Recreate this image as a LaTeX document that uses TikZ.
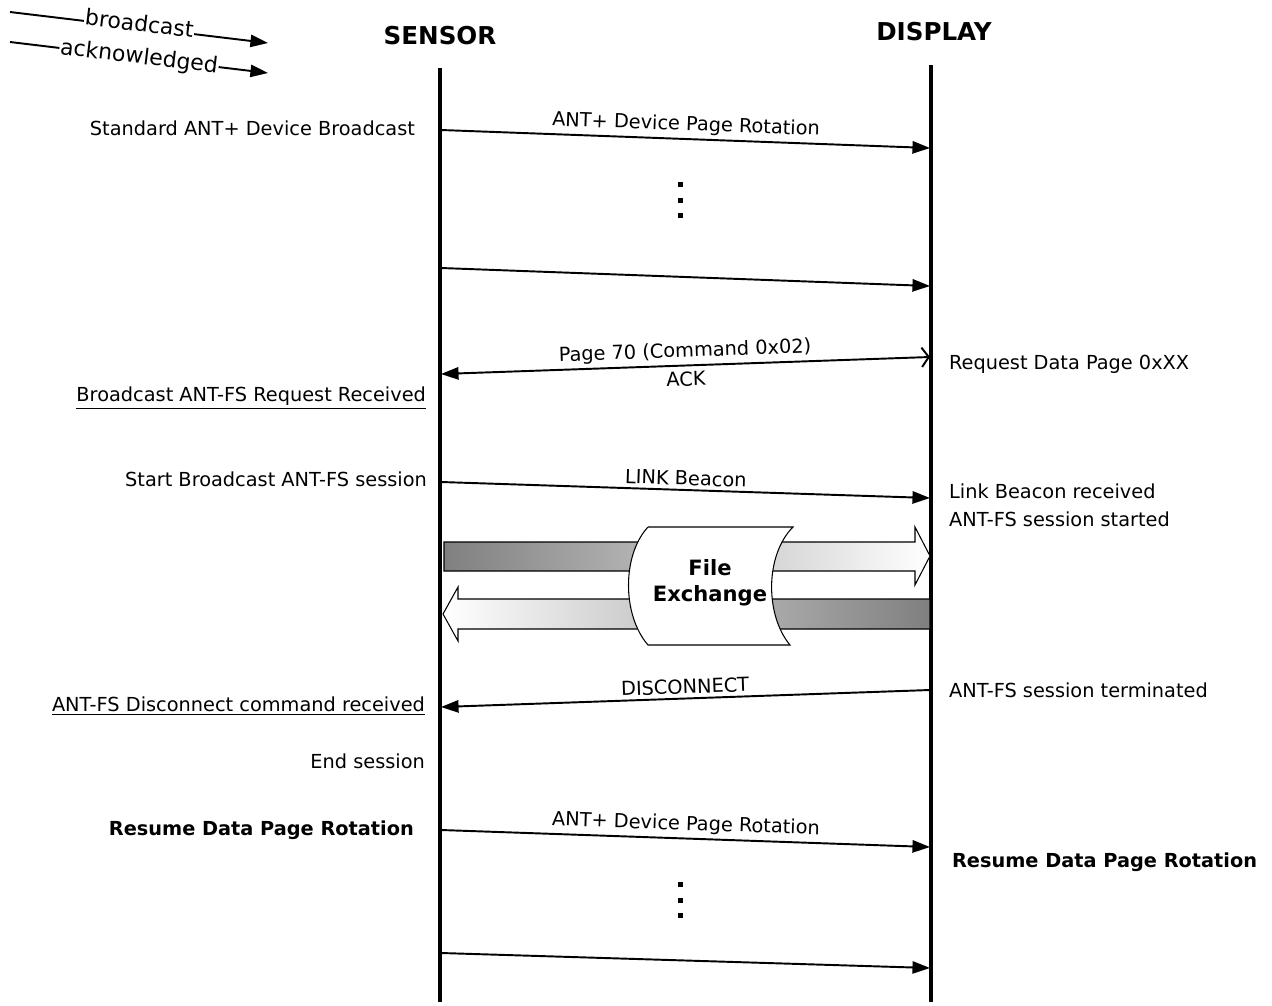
\documentclass[tikz,border=0pt]{standalone}
\usepackage{fontspec}
\setmainfont{DejaVu Sans}
\usetikzlibrary{arrows.meta}
\begin{document}
\begin{tikzpicture}[x=0.02cm,y=-0.02cm,>={Triangle[length=10pt,width=7pt]},
  life/.style={line width=2.3pt},
  msg/.style={->,line width=1.1pt},
  txt/.style={font=\fontsize{11}{16}\selectfont,inner sep=1pt},
  hdr/.style={font=\fontsize{14}{16}\selectfont\bfseries},
  lbl/.style={txt,sloped,above,inner sep=2pt},
  key/.style={font=\fontsize{12.5}{14}\selectfont,sloped,fill=white,inner sep=0.5pt}]
  \useasboundingbox (0,0) rectangle (1272,1005);
  % legend
  \coordinate (b0) at (10,12); \coordinate (b1) at (268,43);
  \coordinate (a0) at (10,42); \coordinate (a1) at (268,73);
  \draw[msg] (b0) -- node[key,yshift=2.5pt] (bcast) {broadcast} (b1);
  \draw[msg] (a0) -- node[key] (ack) {acknowledged} (a1);
  % lifelines
  \node[hdr] (sensor) at (440,36) {SENSOR};
  \node[hdr] (display) at (934,32) {DISPLAY};
  \coordinate (sTop) at (440,68); \coordinate (sBot) at (440,1002);
  \coordinate (dTop) at (931,65); \coordinate (dBot) at (931,1002);
  \draw[life] (sTop) -- (sBot);
  \draw[life] (dTop) -- (dBot);
  % messages
  \coordinate (s1) at (441,130); \coordinate (d1) at (930,148);
  \coordinate (s2) at (441,268); \coordinate (d2) at (930,286);
  \coordinate (s3) at (441,374); \coordinate (d3) at (930,357);
  \coordinate (s4) at (441,482); \coordinate (d4) at (930,498);
  \coordinate (s5) at (441,707); \coordinate (d5) at (930,690);
  \coordinate (s6) at (441,830); \coordinate (d6) at (930,847);
  \coordinate (s7) at (441,953); \coordinate (d7) at (930,968);
  \draw[msg] (s1) -- node[lbl] (rot1) {ANT+ Device Page Rotation} (d1);
  \draw[msg] (s2) -- (d2);
  \draw[line width=1.1pt,{Triangle[length=10pt,width=7pt]}-{Straight Barb[length=4pt,width=11pt]}]
    (s3) -- node[lbl] (req) {Page 70 (Command 0x02)} node[txt,sloped,below,inner sep=3pt] (ackl) {ACK} (d3);
  \draw[msg] (s4) -- node[lbl] (link) {LINK Beacon} (d4);
  \draw[msg] (d5) -- node[lbl] (disc) {DISCONNECT} (s5);
  \draw[msg] (s6) -- node[lbl] (rot2) {ANT+ Device Page Rotation} (d6);
  \draw[msg] (s7) -- (d7);
  \foreach \y in {182,198,213,882,898,913} \fill (678,\y) rectangle +(5,5);
  % file exchange
  \shade[left color=black!50,right color=white,draw,line width=0.6pt]
    (444,542) -- (915,542) -- (915,527) -- (930,556) -- (915,585) -- (915,571) -- (444,571) -- cycle;
  \shade[left color=white,right color=black!50,draw,line width=0.6pt]
    (930,599) -- (458,599) -- (458,587) -- (443,614) -- (458,641) -- (458,629) -- (930,629) -- cycle;
  \draw[fill=white,line width=0.6pt] (648,527) -- (793,527) .. controls (765,555) and (765,615) .. (790,645)
    -- (648,645) .. controls (622,615) and (622,555) .. (648,527);
  \node[txt,font=\fontsize{12}{15}\selectfont\bfseries,align=center] (fx) at (710,583) {File\\Exchange};
  % sensor side
  \node[txt,anchor=east] (std) at (417,128) {Standard ANT+ Device Broadcast};
  \node[txt,anchor=east] (recv) at (428,398) {\underline{Broadcast ANT-FS Request Received}};
  \node[txt,anchor=east] (start) at (429,479) {Start Broadcast ANT-FS session};
  \node[txt,anchor=east] (dcrecv) at (427,706) {\underline{ANT-FS Disconnect command received}};
  \node[txt,anchor=east] (end) at (427,761) {End session};
  \node[txt,anchor=east,font=\fontsize{11}{16}\selectfont\bfseries] (resS) at (416,830) {Resume Data Page Rotation};
  % display side
  \node[txt,anchor=west] (reqd) at (947,364) {Request Data Page 0xXX};
  \node[txt,anchor=west,align=left] (lbr) at (947,505) {Link Beacon received\\ANT-FS session started};
  \node[txt,anchor=west] (term) at (947,690) {ANT-FS session terminated};
  \node[txt,anchor=west,font=\fontsize{11}{16}\selectfont\bfseries] (resD) at (950,862) {Resume Data Page Rotation};
\end{tikzpicture}
\end{document}
